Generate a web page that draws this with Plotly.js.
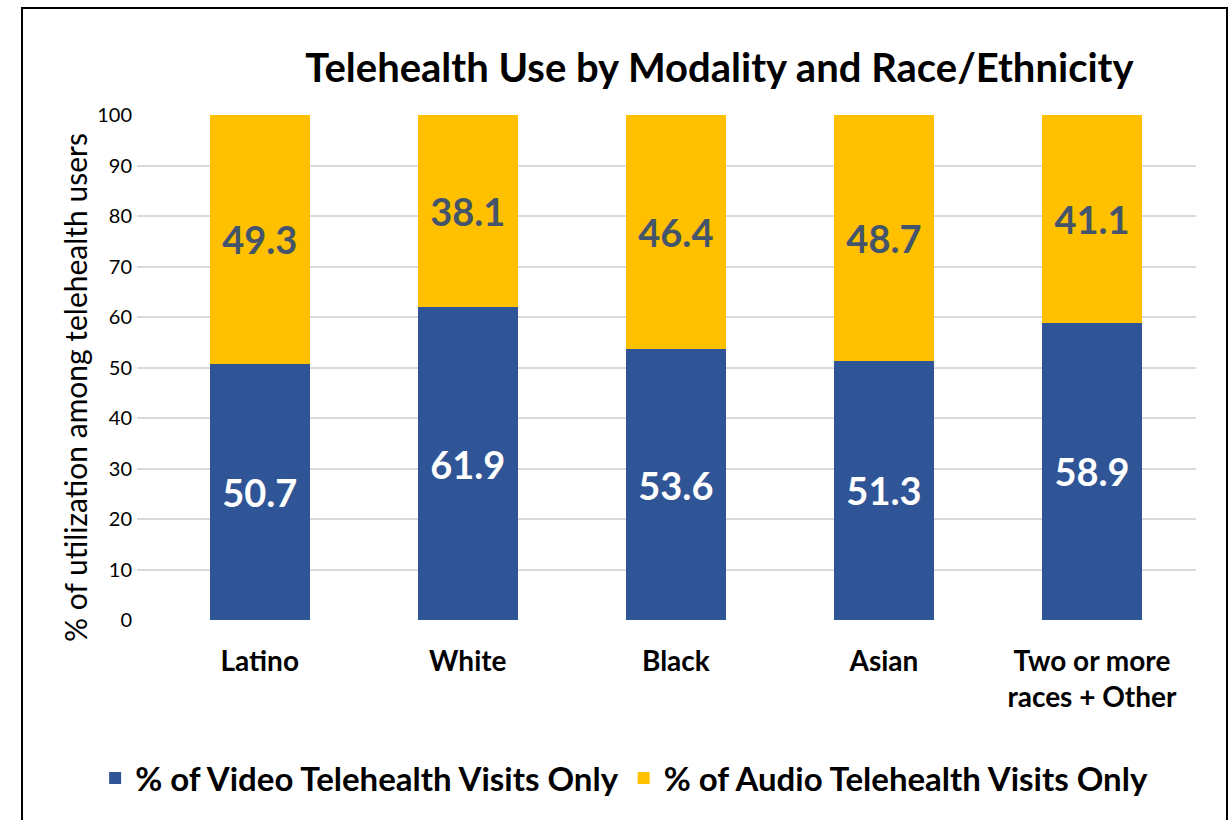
<!DOCTYPE html>
<html>
<head>
<meta charset="utf-8">
<script src="https://cdn.plot.ly/plotly-3.0.1.min.js"></script>
<style>
  html, body { margin: 0; padding: 0; background: #fff; }
  #wrap { position: relative; width: 1230px; height: 820px; overflow: hidden; }
  #chart { position: absolute; left: 0; top: 0; width: 1230px; height: 820px; }
  #frame { position: absolute; left: 21px; top: 7px; width: 1203px; height: 840px; border: 2px solid #000; pointer-events: none; }
</style>
</head>
<body>
<div id="wrap">
  <div id="chart"></div>
  <div id="frame"></div>
</div>
<script>
const categories = ["Latino", "White", "Black", "Asian", "Two or more<br>races + Other"];
const videoOnly = [50.7, 61.9, 53.6, 51.3, 58.9];
const audioOnly = [49.3, 38.1, 46.4, 48.7, 41.1];
const seriesNames = ["% of Video Telehealth Visits Only", "% of Audio Telehealth Visits Only"];
const yTicks = [0, 10, 20, 30, 40, 50, 60, 70, 80, 90, 100];
const yAxisTitle = "% of utilization among telehealth users";

const FONT = "Lato, 'Open Sans', sans-serif";

const traces = [
  {
    type: "bar", name: seriesNames[0], x: categories, y: videoOnly,
    marker: { color: "#2F5597" }, width: 0.48,
    text: videoOnly.map(v => v.toFixed(1)), textposition: "inside", insidetextanchor: "middle",
    textfont: { family: FONT, size: 38, color: "#ffffff", weight: "bold" },
    hoverinfo: "skip", constraintext: "none"
  },
  {
    type: "bar", name: seriesNames[1], x: categories, y: audioOnly,
    marker: { color: "#FFC000" }, width: 0.48,
    text: audioOnly.map(v => v.toFixed(1)), textposition: "inside", insidetextanchor: "middle",
    textfont: { family: FONT, size: 38, color: "#44546A", weight: "bold" },
    hoverinfo: "skip", constraintext: "none"
  }
];

const layout = {
  width: 1230, height: 820,
  paper_bgcolor: "rgba(0,0,0,0)", plot_bgcolor: "#fff",
  margin: { l: 137, r: 34, t: 115, b: 200 },
  barmode: "stack",
  showlegend: true,
  font: { family: FONT, color: "#000" },
  title: {
    text: "<b>Telehealth Use by Modality and Race/Ethnicity</b>",
    font: { family: FONT, size: 40, color: "#000" },
    x: 0.55, xanchor: "center", xref: "paper",
    y: 1 - 68 / 820, yref: "container", yanchor: "middle"
  },
  xaxis: {
    type: "category",
    range: [-0.59, 4.5],
    showgrid: false, zeroline: false, showline: false,
    ticks: "", ticklabelstandoff: 22,
    tickfont: { family: FONT, size: 28, color: "#000", weight: "bold" }
  },
  yaxis: {
    range: [0, 100],
    tickvals: yTicks, ticktext: yTicks.map(String),
    showgrid: true, gridcolor: "#D9D9D9", gridwidth: 2,
    zeroline: false, showline: false, ticks: "",
    tickfont: { family: FONT, size: 20, color: "#000" },
    ticklabelstandoff: 4
  },
  annotations: [
    {
      text: yAxisTitle, textangle: -90, showarrow: false,
      xref: "paper", yref: "paper",
      x: (75 - 137) / 1059, xanchor: "center",
      y: (620 - 388) / 505, yanchor: "middle",
      font: { family: FONT, size: 30, color: "#000" }
    }
  ],
  legend: {
    orientation: "h", x: 0.46, xanchor: "center", y: -0.313, yanchor: "middle",
    font: { family: FONT, size: 33, color: "#000", weight: "bold" },
    itemsizing: "constant", itemwidth: 30, traceorder: "normal"
  }
};

Plotly.newPlot("chart", traces, layout, { displayModeBar: false, staticPlot: true });
</script>
</body>
</html>
